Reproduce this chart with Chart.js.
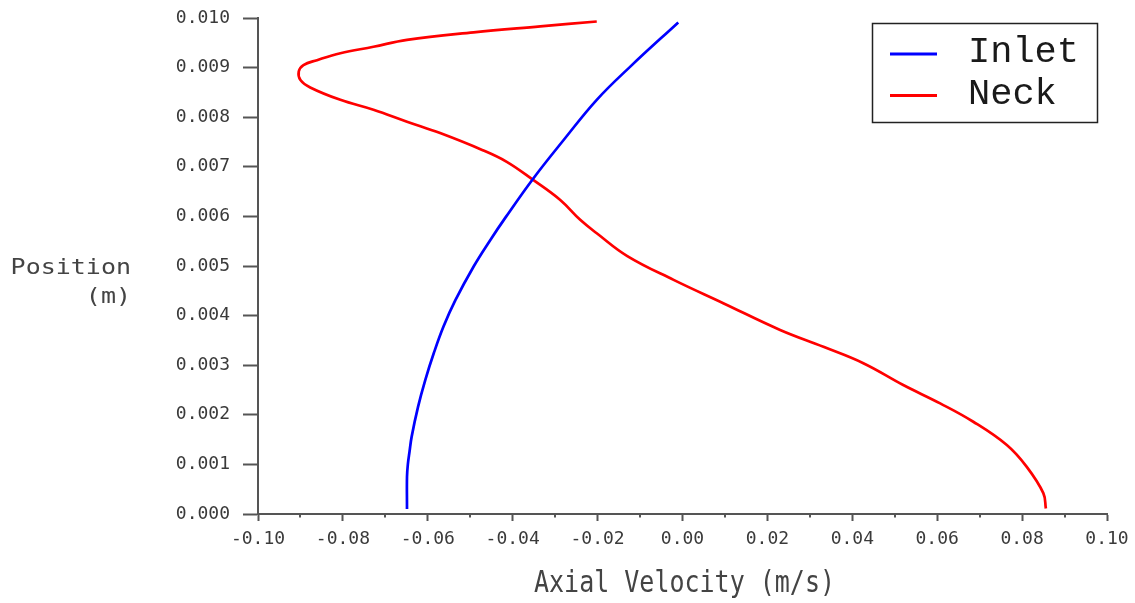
<!DOCTYPE html>
<html>
<head>
<meta charset="utf-8">
<script src="https://cdn.jsdelivr.net/npm/chart.js@4.4.0/dist/chart.umd.min.js"></script>
<style>
  html, body { margin: 0; padding: 0; background: #fff; }
  #wrap { width: 1135px; height: 603px; }
</style>
</head>
<body>
<div id="wrap"><canvas id="velocityChart"></canvas></div>
<script>
// radial position (m) vs axial velocity (m/s) at the two sections
const inletPosition = [0.00010, 0.00075, 0.00100, 0.00126, 0.00156, 0.00216, 0.00270, 0.00324, 0.00378,
  0.00431, 0.00499, 0.00552, 0.00599, 0.00677, 0.00754, 0.00835, 0.00902, 0.00991];
const inletVelocity = [-0.0649, -0.0649, -0.0647, -0.0643, -0.0638, -0.0623, -0.0606, -0.0586, -0.0563,
  -0.0535, -0.0492, -0.0453, -0.0416, -0.0351, -0.0280, -0.0202, -0.0123, -0.0010];

const neckPosition = [0.00011, 0.00042, 0.00095, 0.00139, 0.00186, 0.00223, 0.00260, 0.00304, 0.00337,
  0.00371, 0.00425, 0.00472, 0.00520, 0.00566, 0.00593, 0.00633, 0.00673, 0.00710, 0.00734, 0.00768,
  0.00791, 0.00815, 0.00835, 0.00860, 0.00875, 0.00892, 0.00905, 0.00915, 0.00929, 0.00942, 0.00956,
  0.00971, 0.00983, 0.00993];
const neckVelocity = [0.0856, 0.0850, 0.0811, 0.0764, 0.0685, 0.0607, 0.0520, 0.0426, 0.0332,
  0.0230, 0.0096, -0.0021, -0.0130, -0.0202, -0.0241, -0.0288, -0.0351, -0.0414, -0.0472, -0.0571,
  -0.0649, -0.0728, -0.0806, -0.0877, -0.0900, -0.0904, -0.0893, -0.0861, -0.0806, -0.0728, -0.0649,
  -0.0492, -0.0335, -0.0202];

const seriesNames = ['Inlet', 'Neck'];
const xTitle = 'Axial Velocity (m/s)';
const yTitleLines = ['Position', '(m)'];

const axisColor = '#555';
const labelColor = '#3a3a3a';
const tickFont = { family: 'DejaVu Sans Mono', size: 18 };

const toPoints = (xs, ys) => xs.map((v, i) => ({ x: v, y: ys[i] }));

// short ticks halfway between the labelled x ticks
const minorTicks = {
  id: 'minorTicks',
  afterDraw(chart) {
    const sx = chart.scales.x;
    const ctx = chart.ctx;
    const y0 = chart.chartArea.bottom;
    ctx.save();
    ctx.strokeStyle = axisColor;
    ctx.lineWidth = 2;
    ctx.beginPath();
    for (let i = 0; i < sx.ticks.length - 1; i++) {
      const mid = (sx.ticks[i].value + sx.ticks[i + 1].value) / 2;
      const px = Math.round(sx.getPixelForValue(mid));
      ctx.moveTo(px, y0);
      ctx.lineTo(px, y0 + 3.5);
    }
    ctx.stroke();
    ctx.restore();
  }
};

// stroke-font style axis titles, y title sits horizontally on two lines
const axisTitles = {
  id: 'axisTitles',
  afterDraw(chart) {
    const { ctx, chartArea } = chart;
    ctx.save();
    ctx.fillStyle = '#444';
    ctx.font = '25px "DejaVu Sans Mono"';
    ctx.textBaseline = 'alphabetic';

    ctx.save();
    ctx.textAlign = 'center';
    ctx.translate((chartArea.left + chartArea.right) / 2 + 2, 592);
    ctx.scale(1, 1.18);
    ctx.fillText(xTitle, 0, 0);
    ctx.restore();

    ctx.textAlign = 'right';
    const baselines = [274, 303];
    yTitleLines.forEach((line, i) => {
      ctx.save();
      ctx.translate(131, baselines[i]);
      ctx.scale(1, 0.88);
      ctx.fillText(line, 0, 0);
      ctx.restore();
    });
    ctx.restore();
  }
};

// boxed legend in the upper right corner
const boxLegend = {
  id: 'boxLegend',
  afterDraw(chart) {
    const ctx = chart.ctx;
    ctx.save();
    ctx.strokeStyle = '#222';
    ctx.lineWidth = 1.5;
    ctx.strokeRect(872.5, 23.5, 225, 99);
    const rows = [{ line: 54, base: 62 }, { line: 95.5, base: 103.5 }];
    ctx.font = '37px "Liberation Mono", monospace';
    ctx.textAlign = 'left';
    ctx.textBaseline = 'alphabetic';
    chart.data.datasets.forEach((ds, i) => {
      const r = rows[i];
      ctx.strokeStyle = ds.borderColor;
      ctx.lineWidth = 3;
      ctx.beginPath();
      ctx.moveTo(890, r.line);
      ctx.lineTo(937, r.line);
      ctx.stroke();
      ctx.fillStyle = '#1a1a1a';
      ctx.fillText(ds.label, 968, r.base);
    });
    ctx.restore();
  }
};

const ctx = document.getElementById('velocityChart').getContext('2d');

new Chart(ctx, {
  type: 'scatter',
  data: {
    datasets: [
      {
        label: seriesNames[0],
        data: toPoints(inletVelocity, inletPosition),
        showLine: true,
        borderColor: '#0000ff',
        borderWidth: 2.7,
        pointRadius: 0,
        tension: 0.4,
      },
      {
        label: seriesNames[1],
        data: toPoints(neckVelocity, neckPosition),
        showLine: true,
        borderColor: '#ff0000',
        borderWidth: 2.7,
        pointRadius: 0,
        tension: 0.4,
      },
    ],
  },
  options: {
    responsive: true,
    maintainAspectRatio: false,
    animation: false,
    layout: { padding: { left: 0, right: 28, top: 18, bottom: 0 } },
    scales: {
      x: {
        type: 'linear',
        min: -0.1,
        max: 0.1,
        ticks: {
          stepSize: 0.02,
          color: labelColor,
          font: tickFont,
          padding: 8,
          maxRotation: 0,
          callback: v => (Math.abs(v) < 1e-9 ? 0 : v).toFixed(2),
        },
        grid: { drawOnChartArea: false, tickLength: 7, tickColor: axisColor, tickWidth: 2 },
        border: { color: axisColor, width: 2 },
        afterFit(s) {
          s.height = 89;
          s.paddingLeft = 0;
          s.paddingRight = 0;
        },
      },
      y: {
        type: 'linear',
        min: 0,
        max: 0.010,
        ticks: {
          stepSize: 0.001,
          color: labelColor,
          font: tickFont,
          padding: 13,
          callback: v => v.toFixed(3),
        },
        grid: { drawOnChartArea: false, tickLength: 15, tickColor: axisColor, tickWidth: 2 },
        border: { color: axisColor, width: 2 },
        afterFit(s) {
          s.width = 258;
          s.paddingTop = 0;
          s.paddingBottom = 0;
        },
      },
    },
    plugins: {
      legend: { display: false },
      tooltip: { enabled: false },
    },
  },
  plugins: [minorTicks, axisTitles, boxLegend],
});
</script>
</body>
</html>
